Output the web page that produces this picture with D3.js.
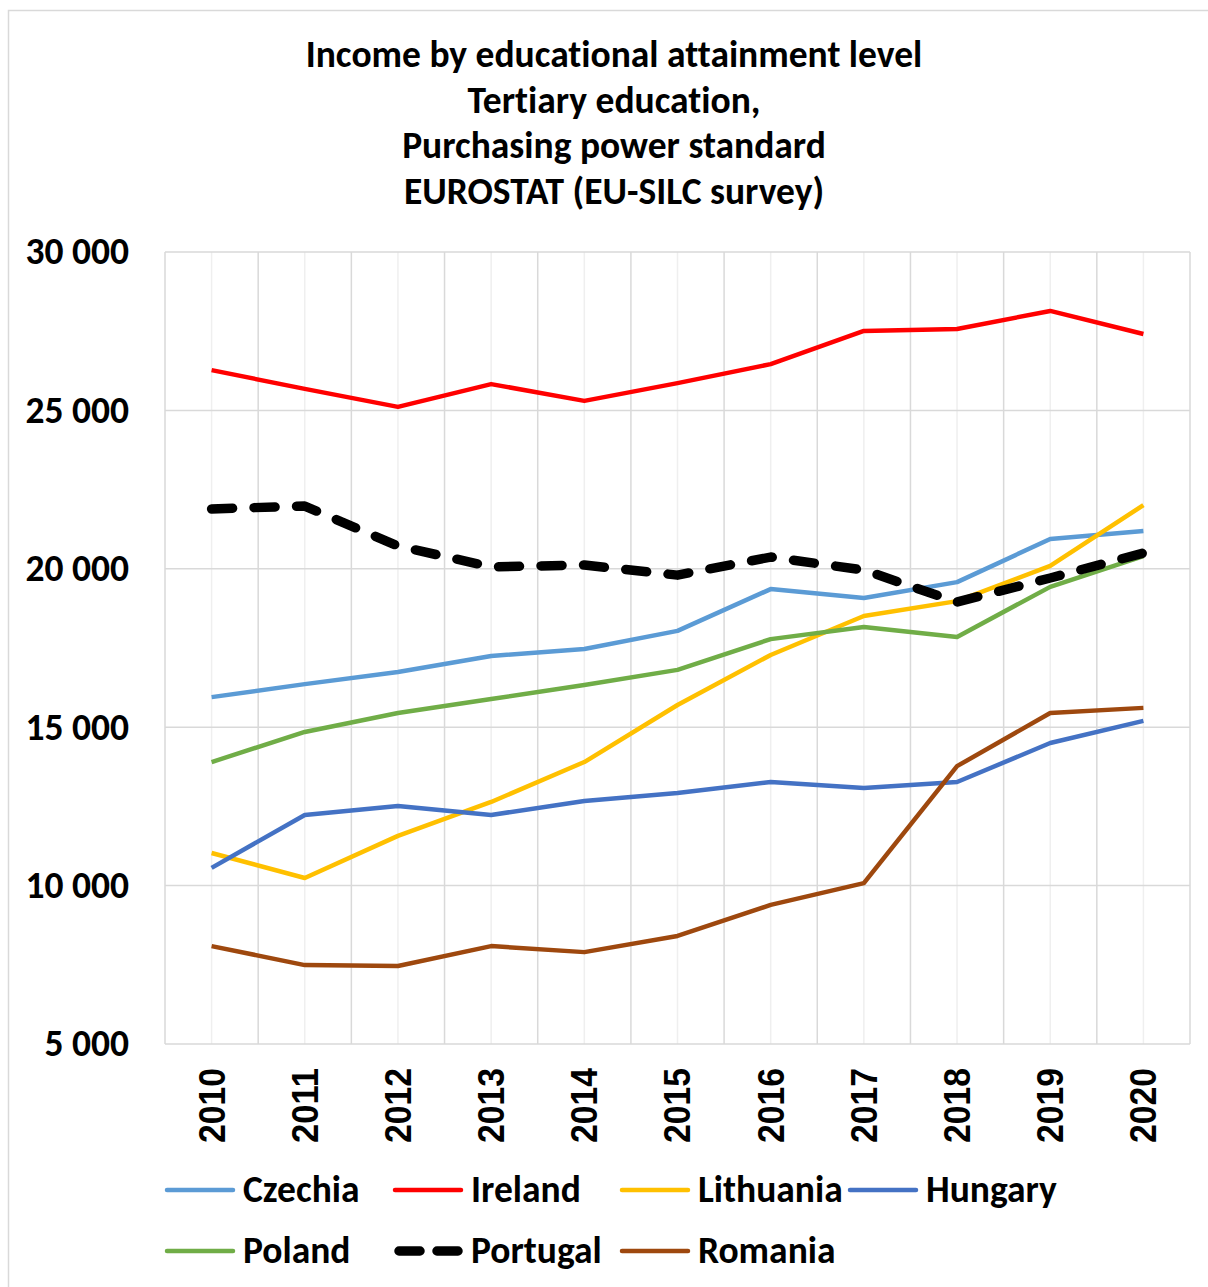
<!DOCTYPE html>
<html>
<head>
<meta charset="utf-8">
<style>
  body { margin: 0; background: #fff; }
  svg { display: block; }
  .calibri { font-family: Carlito, "Liberation Sans Narrow", "Open Sans", sans-serif; font-weight: bold; font-variant-ligatures: none; }
</style>
</head>
<body>
<svg width="1208" height="1287"></svg>
<script src="https://d3js.org/d3.v7.min.js"></script>
<script>
  const years = ["2010", "2011", "2012", "2013", "2014", "2015", "2016", "2017", "2018", "2019", "2020"];
  const yTicks = [5000, 10000, 15000, 20000, 25000, 30000];
  const titleLines = ["Income by educational attainment level", "Tertiary education,", "Purchasing power standard", "EUROSTAT (EU-SILC survey)"];

  const czechia   = [15950, 16360, 16740, 17250, 17470, 18040, 19360, 19080, 19580, 20940, 21190];
  const ireland   = [26270, 25680, 25110, 25830, 25300, 25860, 26460, 27510, 27570, 28140, 27410];
  const lithuania = [11030, 10240, 11570, 12640, 13900, 15700, 17280, 18510, 18980, 20090, 22010];
  const hungary   = [10560, 12230, 12510, 12230, 12670, 12920, 13270, 13080, 13270, 14500, 15200];
  const poland    = [13900, 14850, 15450, 15890, 16330, 16810, 17780, 18160, 17850, 19430, 20400];
  const portugal  = [21890, 21980, 20720, 20060, 20120, 19800, 20370, 19960, 18950, 19710, 20500];
  const romania   = [8090, 7490, 7460, 8090, 7900, 8410, 9390, 10080, 13770, 15450, 15610];

  const series = [
    { name: "Czechia", values: czechia, color: "#5b9bd5" },
    { name: "Ireland", values: ireland, color: "#ff0000" },
    { name: "Lithuania", values: lithuania, color: "#ffc000" },
    { name: "Hungary", values: hungary, color: "#4472c4" },
    { name: "Poland", values: poland, color: "#70ad47" },
    { name: "Portugal", values: portugal, color: "#000000", dashed: true },
    { name: "Romania", values: romania, color: "#9e480e" }
  ];

  const svg = d3.select("svg");
  const plotLeft = 165, plotRight = 1190, plotTop = 252, plotBottom = 1044;

  // chart frame
  svg.append("rect")
    .attr("x", 8.5).attr("y", 10.5)
    .attr("width", 1220).attr("height", 1300)
    .attr("fill", "none").attr("stroke", "#d9d9d9").attr("stroke-width", 1.5);

  const x = d3.scaleBand().domain(years).range([plotLeft, plotRight]);
  const y = d3.scaleLinear().domain([5000, 30000]).range([plotBottom, plotTop]);

  // minor vertical gridlines at category centres
  svg.append("g")
    .selectAll("line")
    .data(years)
    .join("line")
    .attr("x1", d => x(d) + x.bandwidth() / 2)
    .attr("x2", d => x(d) + x.bandwidth() / 2)
    .attr("y1", plotTop).attr("y2", plotBottom)
    .attr("stroke", "#efefef").attr("stroke-width", 1.5);

  // major vertical gridlines at category boundaries
  const bounds = years.map(d => x(d)).concat([plotRight]);
  svg.append("g")
    .selectAll("line")
    .data(bounds)
    .join("line")
    .attr("x1", d => d).attr("x2", d => d)
    .attr("y1", plotTop).attr("y2", plotBottom)
    .attr("stroke", "#d9d9d9").attr("stroke-width", 1.5);

  // horizontal gridlines
  svg.append("g")
    .selectAll("line")
    .data(yTicks)
    .join("line")
    .attr("x1", plotLeft).attr("x2", plotRight)
    .attr("y1", d => y(d)).attr("y2", d => y(d))
    .attr("stroke", "#d9d9d9").attr("stroke-width", 1.5);

  // y labels
  const fmt = v => d3.format(",")(v).replace(",", " ");
  svg.append("g")
    .selectAll("text")
    .data(yTicks)
    .join("text")
    .attr("class", "calibri")
    .attr("x", 129)
    .attr("y", d => y(d))
    .attr("dy", "0.33em")
    .attr("text-anchor", "end")
    .style("font-size", "37.5px")
    .text(fmt);

  // x labels (rotated)
  svg.append("g")
    .selectAll("text")
    .data(years)
    .join("text")
    .attr("transform", d => `translate(${x(d) + x.bandwidth() / 2},1068) rotate(-90)`)
    .attr("dy", "0.36em")
    .attr("text-anchor", "end")
    .attr("textLength", 75)
    .attr("lengthAdjust", "spacingAndGlyphs")
    .style("font-family", "'Liberation Sans', Arial, sans-serif")
    .style("font-weight", "bold")
    .style("font-size", "36px")
    .text(d => d);

  // title
  svg.append("g")
    .selectAll("text")
    .data(titleLines)
    .join("text")
    .attr("class", "calibri")
    .attr("x", 614)
    .attr("y", (d, i) => 67 + i * 45.5)
    .attr("text-anchor", "middle")
    .style("font-size", "37.5px")
    .text(d => d);

  // lines
  const line = d3.line()
    .x((d, i) => x(years[i]) + x.bandwidth() / 2)
    .y(d => y(d));

  svg.append("g")
    .selectAll("path")
    .data(series)
    .join("path")
    .attr("d", d => line(d.values))
    .attr("fill", "none")
    .attr("stroke", d => d.color)
    .attr("stroke-width", d => d.dashed ? 9.5 : 4.5)
    .attr("stroke-dasharray", d => d.dashed ? "21 21.5" : null)
    .attr("stroke-linecap", d => d.dashed ? "round" : "butt")
    .attr("stroke-linejoin", "round");

  // legend
  const legendPos = [
    [167, 1190], [395, 1190], [622, 1190], [850, 1190],
    [167, 1251], [395, 1251], [622, 1251]
  ];
  const legend = svg.append("g")
    .selectAll("g")
    .data(series)
    .join("g")
    .attr("transform", (d, i) => `translate(${legendPos[i][0]},${legendPos[i][1]})`);

  legend.append("line")
    .attr("x1", d => d.dashed ? 4 : 0)
    .attr("x2", d => d.dashed ? 63 : 66)
    .attr("y1", 0).attr("y2", 0)
    .attr("stroke", d => d.color)
    .attr("stroke-width", d => d.dashed ? 9.5 : 4.5)
    .attr("stroke-linecap", "round")
    .attr("stroke-dasharray", d => d.dashed ? "21 17" : null);

  legend.append("text")
    .attr("class", "calibri")
    .attr("x", 76)
    .attr("y", 0)
    .attr("dy", "0.33em")
    .style("font-size", "37.5px")
    .text(d => d.name);
</script>
</body>
</html>
